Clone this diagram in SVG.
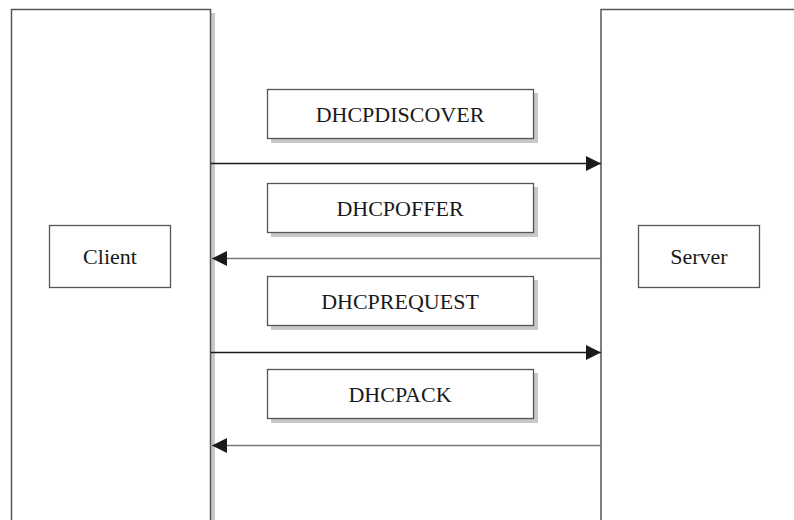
<svg xmlns="http://www.w3.org/2000/svg" width="794" height="520" viewBox="0 0 794 520">
  <style>
    .lane { fill: #ffffff; stroke: #555555; stroke-width: 1.5; }
    .shadow { fill: #c8c8c8; stroke: none; }
    .box { fill: #ffffff; stroke: #555555; stroke-width: 1.3; }
    .lbl { font-family: "Liberation Serif", "Times New Roman", serif; font-size: 22px; fill: #1a1a1a; text-anchor: middle; }
    .fwd { stroke: #1a1a1a; stroke-width: 1.3; fill: none; }
    .back { stroke: #777777; stroke-width: 1.6; fill: none; }
  </style>
  <defs>
    <marker id="ah" markerWidth="15" markerHeight="15" viewBox="0 0 15 15" refX="15" refY="7.5" orient="auto" markerUnits="userSpaceOnUse">
      <path d="M0,0 L15,7.5 L0,15 Z" fill="#1a1a1a"/>
    </marker>
  </defs>
  <rect width="794" height="520" fill="#ffffff"/>

  <g id="client-lane">
    <rect class="shadow" x="211" y="13" width="4" height="510"/>
    <rect class="lane" x="11.5" y="9.5" width="199" height="520"/>
    <g id="client">
      <rect class="box" x="49.5" y="225.5" width="121" height="62"/>
      <text class="lbl" x="110" y="264">Client</text>
    </g>
  </g>

  <g id="server-lane">
    <rect class="lane" x="601" y="9.5" width="200" height="520"/>
    <g id="server">
      <rect class="box" x="638.5" y="225.5" width="121" height="62"/>
      <text class="lbl" x="699" y="264">Server</text>
    </g>
  </g>

  <g id="msg-discover">
    <rect class="shadow" x="271" y="93" width="267" height="50"/>
    <rect class="box" x="267.5" y="89.5" width="266" height="49"/>
    <text class="lbl" x="400" y="122">DHCPDISCOVER</text>
  </g>
  <g id="msg-offer">
    <rect class="shadow" x="271" y="187" width="267" height="50"/>
    <rect class="box" x="267.5" y="183.5" width="266" height="49"/>
    <text class="lbl" x="400" y="216">DHCPOFFER</text>
  </g>
  <g id="msg-request">
    <rect class="shadow" x="271" y="280" width="267" height="50"/>
    <rect class="box" x="267.5" y="276.5" width="266" height="49"/>
    <text class="lbl" x="400" y="309">DHCPREQUEST</text>
  </g>
  <g id="msg-ack">
    <rect class="shadow" x="271" y="373" width="267" height="50"/>
    <rect class="box" x="267.5" y="369.5" width="266" height="49"/>
    <text class="lbl" x="400" y="402">DHCPACK</text>
  </g>

  <g id="connectors">
    <line class="fwd" x1="211" y1="163.5" x2="601" y2="163.5" marker-end="url(#ah)"/>
    <line class="back" x1="601" y1="258.5" x2="212" y2="258.5" marker-end="url(#ah)"/>
    <line class="fwd" x1="211" y1="352.5" x2="601" y2="352.5" marker-end="url(#ah)"/>
    <line class="back" x1="601" y1="445.5" x2="212" y2="445.5" marker-end="url(#ah)"/>
  </g>
</svg>
